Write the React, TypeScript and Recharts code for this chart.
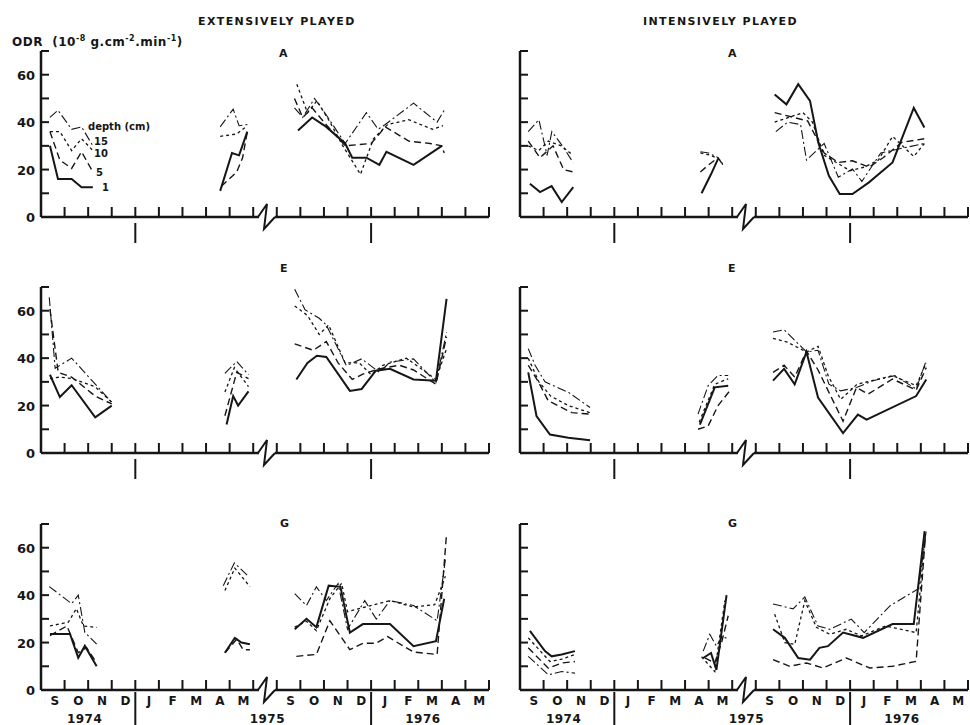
import React from 'react';
import { LineChart, Line, XAxis, YAxis } from 'recharts';

type Pt = [number, number | null];

// x = months since 1 Sep 1974 (Jun-Aug 1975 squeezed into the axis break, so Sep 1975 = 10)
// gaps between sampling periods are null points

// EXTENSIVELY PLAYED, A
const extA1: Pt[] = [[0.38, 30], [0.72, 16], [1.3, 16], [1.72, 12.5], [2.2, 12.5], [5, null], [7.6, 11], [8.1, 27], [8.4, 26], [8.75, 36], [9.8, null], [10.9, 36.5], [11.5, 42], [12.1, 38], [12.9, 31], [13.2, 25], [13.8, 25], [14.35, 22], [14.65, 27.5], [15.8, 22], [17.0, 30]];
const extA5: Pt[] = [[0.38, 36], [0.8, 24], [1.3, 20.5], [1.72, 27.5], [2.2, 19], [5, null], [7.65, 13], [8.3, 19], [8.55, 25], [8.75, 36], [9.8, null], [10.75, 50], [11.1, 42], [11.5, 46], [12.0, 40], [12.9, 30], [14.0, 31], [14.6, 38], [15.6, 32], [16.5, 31], [17.0, 30], [17.1, 27]];
const extA10: Pt[] = [[0.38, 36], [0.8, 36], [1.3, 28], [1.72, 33], [2.2, 28], [5, null], [7.6, 34], [8.3, 35], [8.75, 38.5], [9.8, null], [10.85, 56], [11.3, 44], [11.7, 49], [12.2, 41], [12.8, 30], [13.55, 18], [14.1, 33], [14.7, 39], [15.6, 41], [16.6, 37], [17.05, 38.5]];
const extA15: Pt[] = [[0.38, 42], [0.72, 45], [1.3, 37], [1.72, 38], [2.2, 30], [5, null], [7.6, 38], [8.15, 45.5], [8.4, 38.5], [8.75, 39], [9.8, null], [10.75, 46], [11.1, 42], [11.6, 50], [12.1, 43], [12.9, 31], [13.8, 44], [14.3, 37], [14.6, 39], [15.8, 48], [16.8, 40], [17.1, 45]];

// INTENSIVELY PLAYED, A
const intA1: Pt[] = [[0.42, 14], [0.85, 10.5], [1.34, 13], [1.77, 6.3], [2.26, 12.6], [5, null], [7.7, 10], [8.1, 18], [8.4, 24.5], [9.8, null], [10.8, 51.7], [11.3, 47.5], [11.8, 56], [12.3, 49], [12.65, 31.4], [13.1, 17.4], [13.56, 9.7], [14.1, 9.7], [14.8, 14.6], [15.8, 23], [16.7, 46], [17.15, 37.7]];
const intA5: Pt[] = [[0.35, 32], [0.85, 25], [1.4, 30], [1.85, 20], [2.25, 19], [5, null], [7.65, 19], [8.0, 22], [8.4, 25], [8.6, 22], [9.8, null], [10.8, 44], [11.6, 42], [12.2, 40.5], [12.9, 27], [13.5, 23], [14.1, 23.7], [14.8, 21], [15.4, 25], [16.2, 31.5], [17.15, 33]];
const intA10: Pt[] = [[0.35, 30], [0.8, 28], [1.2, 32], [1.75, 30], [2.25, 26], [5, null], [7.65, 27], [8.1, 26], [8.5, 24], [8.6, 22], [9.8, null], [10.8, 40], [11.4, 42], [12.0, 44], [12.4, 40], [12.9, 26], [13.5, 22.5], [14.0, 19.5], [14.6, 21], [15.2, 24], [15.8, 34], [16.7, 25.5], [17.15, 31]];
const intA15: Pt[] = [[0.35, 36], [0.8, 41], [1.15, 26], [1.35, 36], [1.8, 30], [2.25, 23], [5, null], [7.65, 27.5], [8.0, 27], [8.4, 25], [9.8, null], [10.85, 36], [11.35, 40], [11.9, 39], [12.15, 24], [12.9, 31], [13.5, 16.8], [14.1, 20.3], [14.5, 15], [15.3, 27], [16.2, 29], [17.15, 31]];

// EXTENSIVELY PLAYED, E
const extE1: Pt[] = [[0.38, 33], [0.8, 23.6], [1.3, 28.6], [2.3, 15], [3.0, 20], [5, null], [7.87, 12], [8.15, 24], [8.36, 20], [8.8, 26], [9.8, null], [10.83, 31], [11.3, 38], [11.7, 41], [12.1, 40.5], [13.1, 26.2], [13.6, 27], [14.2, 34.7], [14.8, 35.5], [15.8, 31], [16.75, 30.5], [17.2, 65]];
const extE5: Pt[] = [[0.38, 60.7], [0.73, 34], [1.3, 32], [2.3, 24], [3.0, 20.7], [5, null], [7.8, 15.7], [8.3, 34], [8.8, 31.4], [9.8, null], [10.76, 46], [11.55, 43.3], [12.1, 47], [12.6, 38], [13.2, 31], [13.65, 33.3], [14.35, 35.5], [15.2, 37], [15.8, 35], [16.75, 29], [17.2, 49]];
const extE10: Pt[] = [[0.38, 31.4], [0.8, 32], [1.3, 31.4], [2.3, 27.9], [3.0, 21.4], [5, null], [7.8, 25.7], [8.2, 36], [8.8, 28], [9.8, null], [10.76, 62], [11.3, 58], [11.8, 50], [12.2, 54], [12.9, 38], [13.5, 38], [14.0, 33], [14.5, 37], [15.5, 40], [16.75, 31], [17.2, 44]];
const extE15: Pt[] = [[0.35, 65.7], [0.6, 35.7], [1.3, 40], [3.0, 21.4], [5, null], [7.8, 33.6], [8.3, 38.6], [8.8, 33], [9.8, null], [10.76, 69], [11.2, 60.4], [11.8, 56.8], [12.1, 54], [12.95, 36.9], [13.6, 39.7], [14.35, 34], [14.8, 38.3], [15.8, 39.7], [16.75, 29.8], [17.2, 51]];

// INTENSIVELY PLAYED, E
const intE1: Pt[] = [[0.35, 34], [0.7, 15.6], [1.27, 7.8], [2.05, 6.4], [2.97, 5.4], [5, null], [7.63, 12], [8.26, 27.7], [8.83, 28.4], [9.8, null], [10.73, 30.5], [11.2, 35.5], [11.65, 29], [12.15, 42.6], [12.64, 23.4], [13.7, 8.4], [14.33, 16.2], [14.7, 14.1], [16.8, 24], [17.23, 31]];
const intE5: Pt[] = [[0.35, 37], [0.78, 30], [1.2, 22], [2.2, 17], [2.97, 16.4], [5, null], [7.55, 10], [7.98, 11.4], [8.4, 20], [8.9, 26.3], [9.8, null], [10.73, 34], [11.2, 37], [11.65, 32], [12.15, 43], [12.64, 35], [13.7, 13.4], [14.27, 27.6], [14.76, 24.8], [15.8, 31.2], [16.8, 26.5], [17.23, 36]];
const intE10: Pt[] = [[0.35, 40], [0.8, 30], [1.3, 24], [2.05, 20], [2.97, 17], [5, null], [7.6, 13], [8.26, 29], [8.83, 31.3], [9.8, null], [10.73, 48.3], [11.3, 46.9], [12.15, 42.6], [12.64, 45], [13.07, 32.6], [13.6, 22.6], [14.3, 29], [15.8, 32.6], [16.8, 28.4], [17.23, 38]];
const intE15: Pt[] = [[0.35, 44], [0.64, 37], [1.06, 30], [2.05, 25.6], [2.97, 19.2], [5, null], [7.55, 16.4], [7.98, 28.4], [8.4, 32.7], [8.83, 32.7], [9.8, null], [10.73, 51], [11.2, 52], [12.15, 42.6], [12.64, 43.3], [13.1, 29], [13.6, 26.2], [14.27, 27.6], [14.97, 30.5], [15.9, 32.6], [16.8, 27], [17.23, 39]];

// EXTENSIVELY PLAYED, G
const extG1: Pt[] = [[0.38, 23.6], [1.23, 23.6], [1.58, 13.6], [1.86, 18.6], [2.36, 10], [5, null], [7.8, 15.7], [8.22, 22], [8.5, 20], [8.86, 19.3], [9.8, null], [10.76, 25.6], [11.26, 30], [11.68, 26.5], [12.2, 44], [12.7, 43.5], [13.1, 24.2], [13.65, 27.8], [14.8, 27.8], [15.8, 18.5], [16.75, 20.6], [17.1, 38.5]];
const extG5: Pt[] = [[0.38, 22.9], [1.1, 27], [1.58, 15.7], [1.93, 17.9], [2.36, 11.4], [5, null], [7.8, 15.7], [8.3, 21.4], [8.57, 17], [8.86, 17], [9.8, null], [10.83, 14.2], [11.68, 15], [12.25, 29.2], [13.1, 17], [13.65, 19.7], [14.2, 19.7], [14.7, 22.5], [15.8, 16], [16.8, 15], [17.2, 66]];
const extG10: Pt[] = [[0.38, 27], [1.16, 28.6], [1.5, 34.3], [1.8, 27], [2.36, 26.4], [5, null], [7.8, 42], [8.22, 51.4], [8.86, 43.6], [9.8, null], [10.76, 26.5], [11.26, 29], [11.68, 25], [12.25, 38.5], [12.75, 45], [13.0, 33], [13.75, 35], [14.8, 37.7], [15.8, 35], [16.7, 36], [17.15, 48]];
const extG15: Pt[] = [[0.35, 43.6], [1.3, 36.4], [1.58, 40], [1.86, 24.3], [2.36, 19.3], [5, null], [7.73, 44], [8.2, 53.6], [8.8, 47.9], [9.8, null], [10.76, 40.6], [11.26, 35.6], [11.68, 43.5], [12.1, 37.7], [12.6, 44.9], [13.0, 25.6], [13.73, 37.7], [14.22, 29.9], [14.8, 37.7], [15.8, 35.6], [16.8, 29.2], [17.15, 55]];

// INTENSIVELY PLAYED, G
const intG1: Pt[] = [[0.42, 24.9], [1.06, 16.4], [1.34, 14.2], [1.77, 15], [2.33, 16.4], [5, null], [7.77, 13.5], [8.1, 15.6], [8.33, 8.5], [8.76, 40], [9.8, null], [10.73, 25.6], [11.23, 22], [11.8, 13.5], [12.3, 12.8], [12.7, 17.8], [13.06, 18.5], [13.7, 24.2], [14.55, 22], [15.8, 27.8], [16.7, 27.8], [17.16, 67]];
const intG5: Pt[] = [[0.35, 17.8], [1.2, 9.2], [1.77, 11.4], [2.33, 12], [5, null], [7.84, 13.5], [8.26, 11.4], [8.55, 20], [8.83, 31.3], [9.8, null], [10.73, 12.8], [11.44, 10], [12.15, 11.4], [12.85, 9.3], [13.84, 13.5], [14.83, 9.3], [15.8, 10], [16.8, 12.1], [17.2, 66]];
const intG10: Pt[] = [[0.35, 22], [1.27, 12], [1.77, 13], [2.33, 15], [5, null], [7.7, 14], [8.26, 7.8], [8.69, 37.7], [9.8, null], [10.8, 32], [11.23, 20], [11.65, 19.2], [12.08, 37.7], [12.57, 26.4], [13.14, 23.5], [13.84, 25.6], [14.48, 22.8], [15.5, 27], [16.8, 24.2], [17.2, 66]];
const intG15: Pt[] = [[0.35, 14.2], [1.2, 6.4], [1.77, 7.8], [2.33, 7.1], [5, null], [7.77, 16.4], [8.05, 23.5], [8.33, 18.5], [8.6, 22.8], [8.83, 21.3], [9.8, null], [10.73, 36.3], [11.58, 34.2], [12.08, 39.2], [12.64, 27], [13.14, 25.6], [14.05, 29.9], [14.6, 24.2], [15.7, 35.6], [16.9, 42.7], [17.23, 67]];

const MONTH_LABELS = ['S', 'O', 'N', 'D', 'J', 'F', 'M', 'A', 'M'];
const YEAR_LABELS: [string, number][] = [['1974', 1.85], ['1975', 9.6], ['1976', 16.2]];
const MONTH_STARTS = [1, 2, 3, 4, 5, 6, 7, 8, 9, 10, 11, 12, 13, 14, 15, 16, 17, 18, 19];
const MONTH_MIDS = [0.5, 1.5, 2.5, 3.5, 4.5, 5.5, 6.5, 7.5, 8.5, 10.5, 11.5, 12.5, 13.5, 14.5, 15.5, 16.5, 17.5, 18.5];
const YEAR_TICKS = [4, 14];
const BREAK_AT = 9.5;
const Y_TICKS = [0, 10, 20, 30, 40, 50, 60, 70];
const DEPTHS = ['1', '5', '10', '15'];

const INK = '#161616';
const FONT = "'DejaVu Sans', Verdana, sans-serif";
const PLOT_H = 166;

const depthStyle: Record<string, { dash?: string; width: number }> = {
  '1': { width: 2 },
  '5': { dash: '7 4', width: 1.4 },
  '10': { dash: '3 3', width: 1.3 },
  '15': { dash: '9 3 2 3', width: 1.1 },
};

const rows = (pts: Pt[]) => pts.map(([x, y]) => ({ x, y }));

function makeXTick(bottomRow: boolean) {
  return (p: any) => {
    const { x, y, payload } = p;
    const v = payload.value;
    if (v === BREAK_AT) {
      return (
        <g>
          <rect x={x - 6} y={y - 3} width={16} height={6} fill="#fff" />
          <polyline points={`${x - 7},${y} ${x + 2},${y - 13} ${x - 1},${y + 12} ${x + 10},${y}`}
            fill="none" stroke={INK} strokeWidth={2} />
        </g>
      );
    }
    const yl = YEAR_LABELS.find(d => d[1] === v);
    if (yl) {
      if (!bottomRow) return <g />;
      return <text x={x} y={y + 33} textAnchor="middle" fontFamily={FONT} fontWeight="bold" fontSize={12} letterSpacing={0.5} fill={INK}>{yl[0]}</text>;
    }
    if (Number.isInteger(v)) {
      const long = YEAR_TICKS.includes(v);
      return (
        <g>
          <line x1={x} x2={x} y1={y} y2={y - 10} stroke={INK} strokeWidth={2} />
          {long && <line x1={x} x2={x} y1={bottomRow ? y + 2 : y + 6} y2={bottomRow ? y + 36 : y + 26} stroke={INK} strokeWidth={2} />}
        </g>
      );
    }
    if (!bottomRow) return <g />;
    const idx = Math.floor(v) % 10;
    return <text x={x + 2} y={y + 15} textAnchor="middle" fontFamily={FONT} fontWeight="bold" fontSize={12} fill={INK}>{MONTH_LABELS[idx]}</text>;
  };
}

function makeYTick(showLabels: boolean) {
  return (p: any) => {
    const { x, y, payload } = p;
    const v = payload.value;
    return (
      <g>
        {v > 0 && <line x1={x} x2={x + 8} y1={y} y2={y} stroke={INK} strokeWidth={2} />}
        {showLabels && v % 20 === 0 && (
          <text x={x - 6} y={y + 5} textAnchor="end" fontFamily={FONT} fontWeight="bold" fontSize={13} fill={INK}>{v}</text>
        )}
      </g>
    );
  };
}

function Panel({ series, left, top, marginTop, axisH, yLabels, bottomRow }: {
  series: Pt[][], left: number, top: number, marginTop: number, axisH: number, yLabels: boolean, bottomRow: boolean
}) {
  const xTicks = [...MONTH_STARTS, ...MONTH_MIDS, BREAK_AT, ...YEAR_LABELS.map(d => d[1])].sort((a, b) => a - b);
  return (
    <div style={{ position: 'absolute', left, top }}>
      <LineChart width={490} height={marginTop + PLOT_H + axisH} margin={{ top: marginTop, right: 2, bottom: 0, left: 0 }}>
        <XAxis dataKey="x" type="number" domain={[0, 19]} ticks={xTicks} interval={0} height={axisH}
          tickSize={0} tickMargin={0} tickLine={false} axisLine={{ stroke: INK, strokeWidth: 2.5 }}
          tick={makeXTick(bottomRow)} allowDataOverflow />
        <YAxis type="number" domain={[0, 70]} ticks={Y_TICKS} interval={0} width={40}
          tickSize={0} tickMargin={0} tickLine={false} axisLine={{ stroke: INK, strokeWidth: 2.5 }}
          tick={makeYTick(yLabels)} allowDataOverflow />
        {series.map((s, i) => {
          const st = depthStyle[DEPTHS[i]];
          return (
            <Line key={DEPTHS[i]} data={rows(s)} dataKey="y" type="linear" stroke={INK}
              strokeWidth={st.width} strokeDasharray={st.dash} dot={false} activeDot={false}
              connectNulls={false} isAnimationActive={false} />
          );
        })}
      </LineChart>
    </div>
  );
}

const txt = (extra: React.CSSProperties): React.CSSProperties => ({
  position: 'absolute', fontFamily: FONT, fontWeight: 'bold', color: INK, whiteSpace: 'nowrap', lineHeight: 1, ...extra,
});

export default function App() {
  return (
    <div style={{ position: 'absolute', left: 0, top: 0, width: 970, height: 725, background: '#fff', overflow: 'hidden' }}>
      <div style={txt({ left: 198, top: 16, fontSize: 11, letterSpacing: 1.4 })}>EXTENSIVELY PLAYED</div>
      <div style={txt({ left: 643, top: 16, fontSize: 11, letterSpacing: 1.4 })}>INTENSIVELY PLAYED</div>
      <div style={txt({ left: 12, top: 35, fontSize: 12, letterSpacing: 0.5 })}>
        ODR&nbsp;&nbsp;(10<sup style={{ fontSize: 8 }}>-8</sup> g.cm<sup style={{ fontSize: 8 }}>-2</sup>.min<sup style={{ fontSize: 8 }}>-1</sup>)
      </div>

      <Panel series={[extA1, extA5, extA10, extA15]} left={1} top={0} marginTop={51} axisH={30} yLabels bottomRow={false} />
      <Panel series={[intA1, intA5, intA10, intA15]} left={480} top={0} marginTop={51} axisH={30} yLabels={false} bottomRow={false} />
      <Panel series={[extE1, extE5, extE10, extE15]} left={1} top={240} marginTop={47} axisH={30} yLabels bottomRow={false} />
      <Panel series={[intE1, intE5, intE10, intE15]} left={480} top={240} marginTop={47} axisH={30} yLabels={false} bottomRow={false} />
      <Panel series={[extG1, extG5, extG10, extG15]} left={1} top={470} marginTop={54} axisH={35} yLabels bottomRow />
      <Panel series={[intG1, intG5, intG10, intG15]} left={480} top={470} marginTop={54} axisH={35} yLabels={false} bottomRow />

      <div style={txt({ left: 279, top: 48, fontSize: 11 })}>A</div>
      <div style={txt({ left: 728, top: 48, fontSize: 11 })}>A</div>
      <div style={txt({ left: 280, top: 263, fontSize: 11 })}>E</div>
      <div style={txt({ left: 728, top: 263, fontSize: 11 })}>E</div>
      <div style={txt({ left: 280, top: 518, fontSize: 11 })}>G</div>
      <div style={txt({ left: 728, top: 518, fontSize: 11 })}>G</div>

      <div style={txt({ left: 88, top: 122, fontSize: 10 })}>depth (cm)</div>
      <div style={txt({ left: 94, top: 137, fontSize: 10 })}>15</div>
      <div style={txt({ left: 94, top: 149, fontSize: 10 })}>10</div>
      <div style={txt({ left: 96, top: 168, fontSize: 10 })}>5</div>
      <div style={txt({ left: 102, top: 183, fontSize: 10 })}>1</div>
    </div>
  );
}
